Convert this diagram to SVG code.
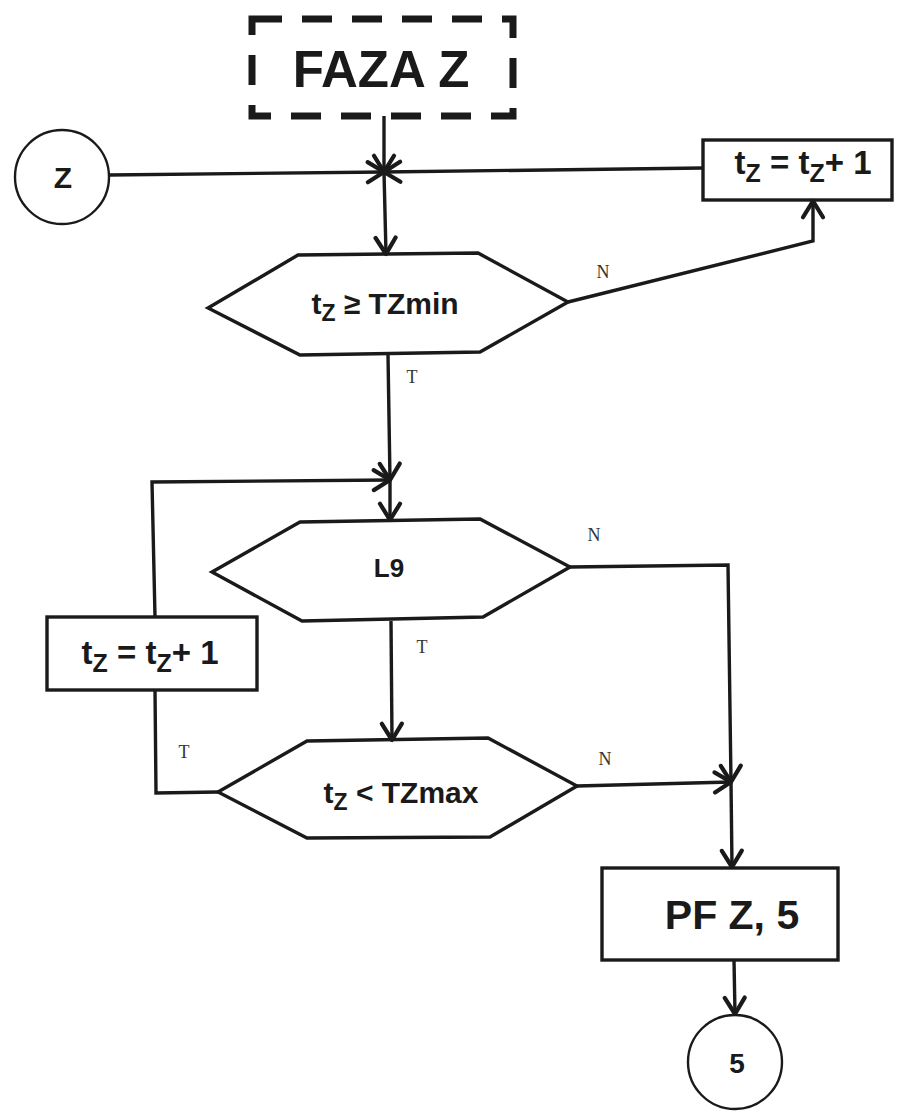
<svg xmlns="http://www.w3.org/2000/svg" width="908" height="1112" viewBox="0 0 908 1112">
  <defs>
    <marker id="arrow" markerUnits="userSpaceOnUse" markerWidth="30" markerHeight="30" viewBox="-16 -12 20 24" refX="0" refY="0" orient="auto" overflow="visible">
      <path d="M -13 -8 L 0 0 L -13 8" fill="none" stroke="#1a1a1a" stroke-width="3.4" stroke-linecap="round" stroke-linejoin="round"/>
    </marker>
    <style>
      .shape { fill: #ffffff; stroke: #1a1a1a; stroke-width: 3.4; stroke-linejoin: miter; }
      .thin { fill: #ffffff; stroke: #1a1a1a; stroke-width: 2.4; }
      .dashed { fill: none; stroke: #1a1a1a; stroke-width: 7; stroke-dasharray: 30 20; }
      .edge { fill: none; stroke: #1a1a1a; stroke-width: 3.4; stroke-linejoin: miter; }
      .lbl { font-family: "Liberation Sans", Arial, sans-serif; font-weight: bold; fill: #1a1a1a; text-anchor: middle; }
      .yn { font-family: "Liberation Serif", "Times New Roman", serif; font-size: 18px; fill: #333333; text-anchor: middle; }
    </style>
  </defs>

  <!-- phase header -->
  <g id="phase">
    <rect class="dashed" x="252" y="19" width="261" height="97"/>
    <text class="lbl" x="381" y="87" font-size="51">FAZA Z</text>
  </g>

  <!-- entry connector Z -->
  <g id="entryZ">
    <circle class="thin" cx="62" cy="177" r="47"/>
    <text class="lbl" x="63" y="188" font-size="30">Z</text>
  </g>

  <!-- increment (top) -->
  <g id="incTop">
    <rect class="shape" x="703" y="140" width="189" height="60"/>
    <text class="lbl" x="803" y="174" font-size="33">t<tspan font-size="25" dy="8">Z</tspan><tspan dy="-8"> = t</tspan><tspan font-size="25" dy="8">Z</tspan><tspan dy="-8">+ 1</tspan></text>
  </g>

  <!-- decision tz >= TZmin -->
  <g id="decMin">
    <polygon class="shape" points="208,308 298,255 478,253 568,302 480,352 300,355"/>
    <text class="lbl" x="385" y="314" font-size="30">t<tspan font-size="23" dy="7">Z</tspan><tspan dy="-7"> ≥ TZmin</tspan></text>
  </g>

  <!-- decision L9 -->
  <g id="decL9">
    <polygon class="shape" points="212,572 300,522 480,519 570,567 483,617 302,621"/>
    <text class="lbl" x="389" y="577" font-size="26">L9</text>
  </g>

  <!-- increment (left loop) -->
  <g id="incLeft">
    <rect class="shape" x="47" y="617" width="210" height="73"/>
    <text class="lbl" x="150" y="664" font-size="33">t<tspan font-size="25" dy="8">Z</tspan><tspan dy="-8"> = t</tspan><tspan font-size="25" dy="8">Z</tspan><tspan dy="-8">+ 1</tspan></text>
  </g>

  <!-- decision tz < TZmax -->
  <g id="decMax">
    <polygon class="shape" points="218,792 307,741 488,738 577,786 490,837 307,838"/>
    <text class="lbl" x="401" y="803" font-size="30">t<tspan font-size="23" dy="7">Z</tspan><tspan dy="-7"> &lt; TZmax</tspan></text>
  </g>

  <!-- end of phase -->
  <g id="endPhase">
    <rect class="shape" x="602" y="868" width="236" height="92"/>
    <text class="lbl" x="732" y="929" font-size="41">PF Z, 5</text>
  </g>

  <!-- exit connector 5 -->
  <g id="exit5">
    <circle class="thin" cx="735" cy="1062" r="47"/>
    <text class="lbl" x="737" y="1073" font-size="28">5</text>
  </g>

  <!-- connectors -->
  <g id="connectors">
    <line class="edge" x1="384" y1="116" x2="384" y2="172" marker-end="url(#arrow)"/>
    <line class="edge" x1="109" y1="175" x2="384" y2="172" marker-end="url(#arrow)"/>
    <line class="edge" x1="703" y1="168" x2="384" y2="172" marker-end="url(#arrow)"/>
    <line class="edge" x1="384" y1="172" x2="386" y2="254" marker-end="url(#arrow)"/>

    <polyline class="edge" points="568,302 813,241 813,201" marker-end="url(#arrow)"/>

    <line class="edge" x1="388" y1="355" x2="390" y2="480" marker-end="url(#arrow)"/>
    <polyline class="edge" points="155,617 152,482 390,480" marker-end="url(#arrow)"/>
    <line class="edge" x1="390" y1="480" x2="390" y2="520" marker-end="url(#arrow)"/>

    <polyline class="edge" points="570,567 728,565 731,782" marker-end="url(#arrow)"/>
    <line class="edge" x1="391" y1="621" x2="392" y2="740" marker-end="url(#arrow)"/>

    <polyline class="edge" points="218,792 156,793 155,690"/>
    <line class="edge" x1="577" y1="786" x2="731" y2="782" marker-end="url(#arrow)"/>
    <line class="edge" x1="731" y1="782" x2="732" y2="867" marker-end="url(#arrow)"/>
    <line class="edge" x1="734" y1="960" x2="735" y2="1014" marker-end="url(#arrow)"/>

    <text class="yn" x="603" y="278">N</text>
    <text class="yn" x="412" y="383">T</text>
    <text class="yn" x="594" y="541">N</text>
    <text class="yn" x="422" y="653">T</text>
    <text class="yn" x="184" y="758">T</text>
    <text class="yn" x="605" y="765">N</text>
  </g>
</svg>
